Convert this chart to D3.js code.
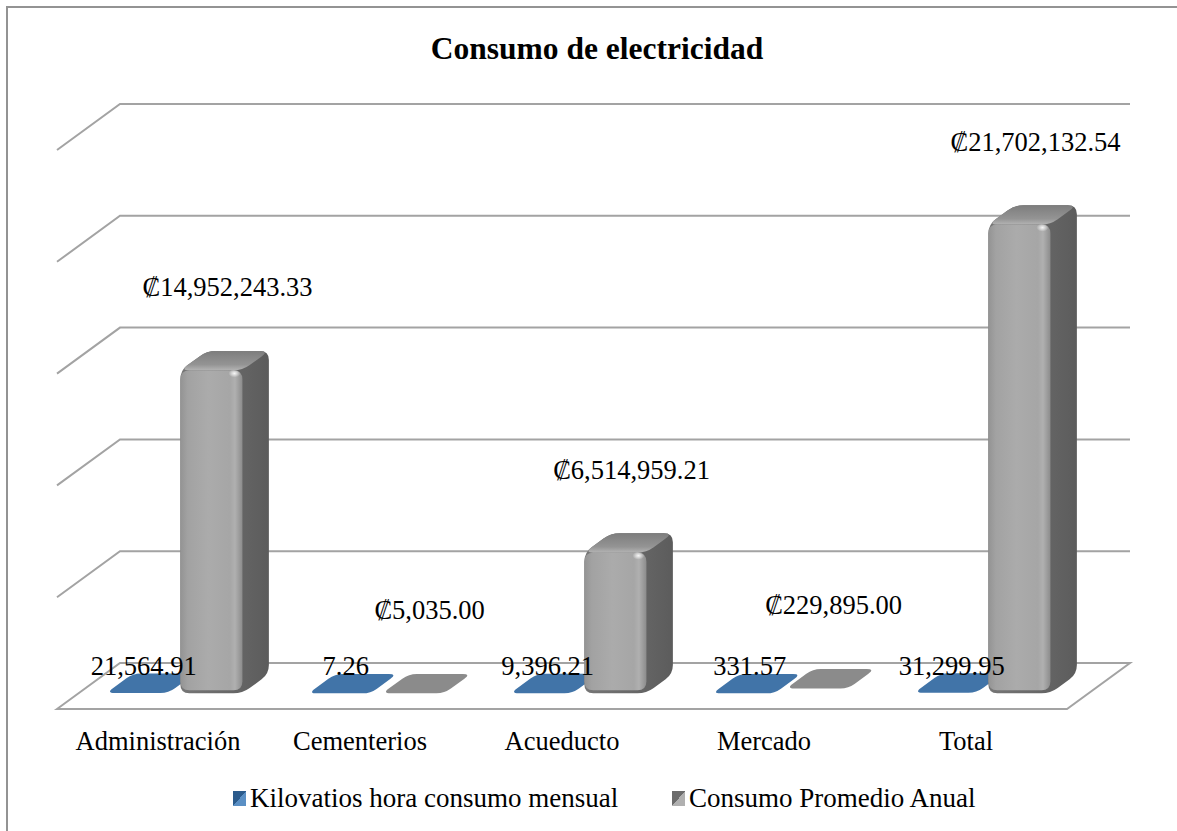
<!DOCTYPE html>
<html>
<head>
<meta charset="utf-8">
<script src="https://cdn.jsdelivr.net/npm/d3@7"></script>
<style>
  html, body { margin: 0; padding: 0; background: #ffffff; }
  svg { display: block; }
  text { font-family: "Liberation Serif", "Times New Roman", "DejaVu Serif", serif; fill: #000; }
</style>
</head>
<body>
<svg id="chart" width="1177" height="831"></svg>
<script>
// ---- data ----
const title = "Consumo de electricidad";
const categories = ["Administración", "Cementerios", "Acueducto", "Mercado", "Total"];
const seriesNames = ["Kilovatios hora consumo mensual", "Consumo Promedio Anual"];
const kwhValues = [21564.91, 7.26, 9396.21, 331.57, 31299.95];
const costValues = [14952243.33, 5035.00, 6514959.21, 229895.00, 21702132.54];
const axisMax = 25000000;
const gridTicks = [0, 5000000, 10000000, 15000000, 20000000, 25000000];

// ---- layout ----
const FONT = '"Liberation Serif", "Times New Roman", "DejaVu Serif", serif';
const svg = d3.select("#chart");
const floorX0 = 57, floorYFront = 709, depthDX = 63, depthDY = 46;
const zFront = 0.34, zBack = 0.76;

function P(u, z, h) { return [floorX0 + u + z * depthDX, floorYFront - z * depthDY - (h || 0)]; }

const xCat = d3.scaleBand().domain(categories).range([0, 1010]);
const xSer = d3.scaleBand().domain(seriesNames).range([28, 164]).paddingInner(0.16);
const wallScale = d3.scaleLinear().domain([0, axisMax]).range([0, 559]);
const barScale = d3.scaleLinear().domain([0, axisMax]).range([0, 540]);

const colors = {
  [seriesNames[0]]: { top: "#4174a8", side: "#2f5d8c", front: "#3b6c9e", mark1: "#2b5b8c", mark2: "#5a8fc4" },
  [seriesNames[1]]: { top: "#8b8b8b", side: "#6a6a6a", front: "#a4a4a4", mark1: "#6c6c6c", mark2: "#b0b0b0" }
};

const defs = svg.append("defs");
const fg = defs.append("linearGradient").attr("id", "frontGrad").attr("x1", "0").attr("x2", "1").attr("y1", "0").attr("y2", "0");
fg.append("stop").attr("offset", "0").attr("stop-color", "#939393");
fg.append("stop").attr("offset", "0.12").attr("stop-color", "#a2a2a2");
fg.append("stop").attr("offset", "0.45").attr("stop-color", "#ababab");
fg.append("stop").attr("offset", "0.8").attr("stop-color", "#a6a6a6");
fg.append("stop").attr("offset", "0.88").attr("stop-color", "#b0b0b0");
fg.append("stop").attr("offset", "1").attr("stop-color", "#8c8c8c");
const sg = defs.append("linearGradient").attr("id", "sideGrad").attr("x1", "0").attr("x2", "1").attr("y1", "0").attr("y2", "0");
sg.append("stop").attr("offset", "0").attr("stop-color", "#767676");
sg.append("stop").attr("offset", "1").attr("stop-color", "#5c5c5c");
const tg = defs.append("linearGradient").attr("id", "topGrad").attr("x1", "0").attr("x2", "0").attr("y1", "0").attr("y2", "1");
tg.append("stop").attr("offset", "0").attr("stop-color", "#7d7d7d");
tg.append("stop").attr("offset", "0.7").attr("stop-color", "#949494");
tg.append("stop").attr("offset", "1").attr("stop-color", "#b4b4b4");
const rh = defs.append("radialGradient").attr("id", "hl");
rh.append("stop").attr("offset", "0").attr("stop-color", "#ffffff").attr("stop-opacity", 0.9);
rh.append("stop").attr("offset", "1").attr("stop-color", "#ffffff").attr("stop-opacity", 0);

seriesNames.forEach((s, i) => {
  const g = defs.append("linearGradient").attr("id", "mk" + i).attr("x1", "0").attr("y1", "0").attr("x2", "1").attr("y2", "1");
  g.append("stop").attr("offset", "0.5").attr("stop-color", colors[s].mark1);
  g.append("stop").attr("offset", "0.5").attr("stop-color", colors[s].mark2);
});

// rounded polygon helper
function roundedPath(pts, r) {
  const n = pts.length;
  let d = "";
  for (let i = 0; i < n; i++) {
    const p0 = pts[(i - 1 + n) % n], p1 = pts[i], p2 = pts[(i + 1) % n];
    const l1 = Math.hypot(p1[0] - p0[0], p1[1] - p0[1]);
    const l2 = Math.hypot(p2[0] - p1[0], p2[1] - p1[1]);
    const r1 = Math.min(r, l1 / 2), r2 = Math.min(r, l2 / 2);
    const a = [p1[0] + (p0[0] - p1[0]) * r1 / (l1 || 1), p1[1] + (p0[1] - p1[1]) * r1 / (l1 || 1)];
    const b = [p1[0] + (p2[0] - p1[0]) * r2 / (l2 || 1), p1[1] + (p2[1] - p1[1]) * r2 / (l2 || 1)];
    d += (i === 0 ? "M" : "L") + a[0] + "," + a[1] + "Q" + p1[0] + "," + p1[1] + " " + b[0] + "," + b[1];
  }
  return d + "Z";
}

// border
svg.append("rect").attr("x", 7).attr("y", 7).attr("width", 1200).attr("height", 900)
  .attr("fill", "none").attr("stroke", "#939393").attr("stroke-width", 2);

// title
svg.append("text").attr("x", 597).attr("y", 59).attr("text-anchor", "middle").attr("font-family", FONT)
  .attr("font-size", 31.5).attr("font-weight", "bold").text(title);

// back wall gridlines + side wall diagonals
const wallBackY = floorYFront - depthDY; // 663
const wallLeft = floorX0 + depthDX;      // 120
const wallRight = floorX0 + xCat.range()[1] + depthDX; // 1130
const grid = svg.append("g").attr("stroke", "#a3a3a3").attr("stroke-width", 2).attr("fill", "none");
gridTicks.filter(t => t > 0).forEach(t => {
  const y = wallBackY - wallScale(t);
  grid.append("path").attr("d", `M${floorX0},${y + depthDY}L${wallLeft},${y}L${wallRight},${y}`);
});
// floor
grid.append("path").attr("d",
  `M${floorX0},${floorYFront}L${wallLeft},${wallBackY}L${wallRight},${wallBackY}L${wallRight - depthDX},${floorYFront}Z`);

// bars
const barsG = svg.append("g");
const labelsG = svg.append("g");
const fmt = d3.format(",.2f");

categories.forEach((c, ci) => {
  const vals = [kwhValues[ci], costValues[ci]];
  seriesNames.forEach((s, si) => {
    const v = vals[si];
    const h = barScale(v);
    const uL = xCat(c) + xSer(s), uR = uL + xSer.bandwidth();
    const col = colors[s];
    const g = barsG.append("g");
    if (h < 6) {
      const top = [P(uL, zFront, h), P(uR, zFront, h), P(uR, zBack, h), P(uL, zBack, h)];
      g.append("path").attr("d", roundedPath(top, 8)).attr("fill", col.top);
    } else {
      const sil = [P(uL, zFront, 0), P(uR, zFront, 0), P(uR, zBack, 0), P(uR, zBack, h), P(uL, zBack, h), P(uL, zFront, h)];
      g.append("path").attr("d", roundedPath(sil, 9)).attr("fill", "url(#sideGrad)");
      const top = [P(uL, zFront, h), P(uR, zFront, h), P(uR, zBack, h), P(uL, zBack, h)];
      g.append("path").attr("d", roundedPath(top, 9)).attr("fill", "url(#topGrad)");
      const f0 = P(uL, zFront, h), f1 = P(uR, zFront, 0);
      const front = [[f0[0], f0[1]], [f1[0], f0[1]], [f1[0], f1[1] - 3], [f0[0], f1[1] - 3]];
      g.append("path").attr("d", roundedPath(front, 9)).attr("fill", "url(#frontGrad)");
      g.append("ellipse").attr("cx", f1[0] - 8).attr("cy", f0[1] + 3).attr("rx", 6).attr("ry", 4).attr("fill", "url(#hl)");
    }
    // labels
    const mid = P((uL + uR) / 2, (zFront + zBack) / 2, 0);
    if (si === 0) {
      labelsG.append("text").attr("x", mid[0] - 7).attr("y", 675).attr("text-anchor", "middle")
        .attr("font-family", FONT).attr("font-size", 26.5).text(fmt(v));
    } else {
      const frontTop = P(uL, zFront, h)[1];
      labelsG.append("text").attr("x", mid[0] + 3).attr("y", frontTop - 74).attr("text-anchor", "middle")
        .attr("font-family", FONT).attr("font-size", 26.5).text("₡" + fmt(v));
    }
  });
  // category label
  svg.append("text").attr("x", floorX0 + xCat(c) + xCat.bandwidth() / 2).attr("y", 750)
    .attr("text-anchor", "middle").attr("font-family", FONT).attr("font-size", 26.5).text(c);
});

// legend
const legendItems = [{ s: seriesNames[0], x: 233 }, { s: seriesNames[1], x: 672 }];
legendItems.forEach((d, i) => {
  svg.append("rect").attr("x", d.x).attr("y", 791).attr("width", 13).attr("height", 15)
    .attr("fill", "url(#mk" + i + ")");
  svg.append("text").attr("x", d.x + 17).attr("y", 807).attr("font-family", FONT).attr("font-size", 27).text(d.s);
});
</script>
</body>
</html>
